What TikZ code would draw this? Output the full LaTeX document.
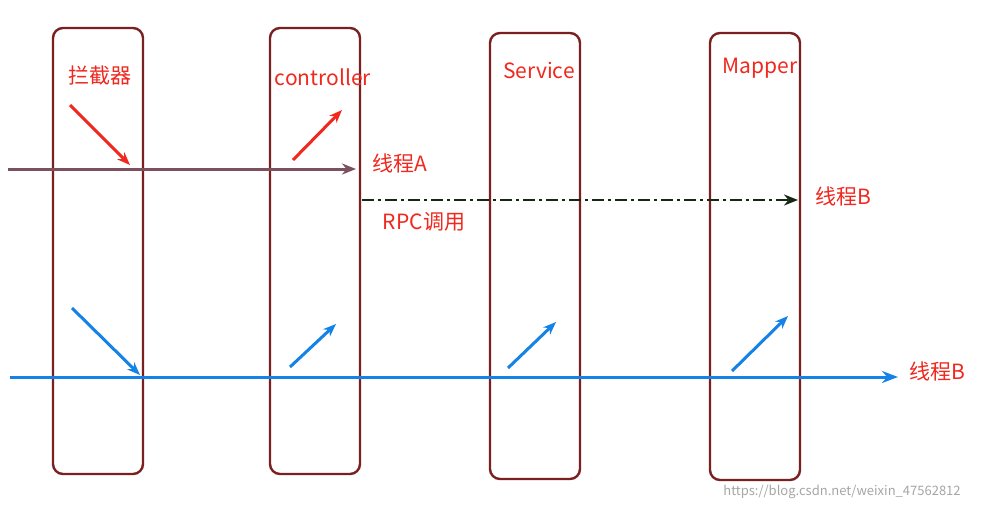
\documentclass[tikz,border=0pt]{standalone}
\usepackage{fontspec}
\setmainfont{Noto Sans CJK SC}
\usetikzlibrary{arrows.meta}
\definecolor{boxc}{RGB}{122,32,32}
\definecolor{redc}{RGB}{240,40,30}
\definecolor{bluec}{RGB}{20,130,230}
\definecolor{thrA}{RGB}{125,80,95}
\definecolor{rpcc}{RGB}{20,40,20}
\begin{document}
\begin{tikzpicture}[x=1pt,y=-1pt,
  lane/.style={draw=boxc,line width=2.4pt,rounded corners=10pt},
  lbl/.style={text=redc,font=\fontsize{21}{24}\selectfont,inner sep=0pt},
  rarr/.style={redc,line width=3pt,-{Stealth[length=13pt,width=10pt]}},
  barr/.style={bluec,line width=3pt,-{Stealth[length=13pt,width=10pt]}}]
\useasboundingbox (0,0) rectangle (987,511);
\fill[white] (0,0) rectangle (987,511);
\draw[lane] (53,28) rectangle (143,474);
\draw[lane] (270,28) rectangle (360,474);
\draw[lane] (490,33) rectangle (580,479);
\draw[lane] (710,33) rectangle (800,480);
\node[lbl] (t1) at (100,76) {拦截器};
\node[lbl] (t2) at (323,77) {controller};
\node[lbl] (t3) at (539,70) {Service};
\node[lbl] (t4) at (760,68) {Mapper};
\coordinate (r1s) at (70,105); \coordinate (r1e) at (130,165);
\coordinate (r2s) at (293,160); \coordinate (r2e) at (342,110);
\draw[rarr] (r1s) -- (r1e);
\draw[rarr] (r2s) -- (r2e);
\coordinate (as) at (8,169); \coordinate (ae) at (356,169);
\draw[thrA,line width=3pt,-{Stealth[length=14pt,width=11pt]}] (as) -- (ae);
\node[lbl] (la) at (400,163) {线程A};
\coordinate (ps) at (362,200); \coordinate (pe) at (798,200);
\draw[rpcc,line width=2.6pt,dash pattern=on 12pt off 4pt on 3pt off 4pt,-{Stealth[length=14pt,width=11pt]}] (ps) -- (pe);
\node[lbl] (lb1) at (843,196) {线程B};
\node[lbl] (rpc) at (424,222) {RPC调用};
\coordinate (bs) at (10,377); \coordinate (be) at (898,377);
\draw[bluec,line width=3pt,-{Stealth[length=16pt,width=12pt]}] (bs) -- (be);
\node[lbl] (lb2) at (937,371) {线程B};
\coordinate (b1s) at (72,308); \coordinate (b1e) at (140,375);
\coordinate (b2s) at (290,367); \coordinate (b2e) at (336,324);
\coordinate (b3s) at (508,368); \coordinate (b3e) at (556,322);
\coordinate (b4s) at (732,371); \coordinate (b4e) at (788,316);
\draw[barr] (b1s) -- (b1e);
\draw[barr] (b2s) -- (b2e);
\draw[barr] (b3s) -- (b3e);
\draw[barr] (b4s) -- (b4e);
\node[text=gray!70,font=\fontsize{13}{15}\selectfont,inner sep=0pt] (wm) at (842,492) {https://blog.csdn.net/weixin\_47562812};
\end{tikzpicture}
\end{document}
